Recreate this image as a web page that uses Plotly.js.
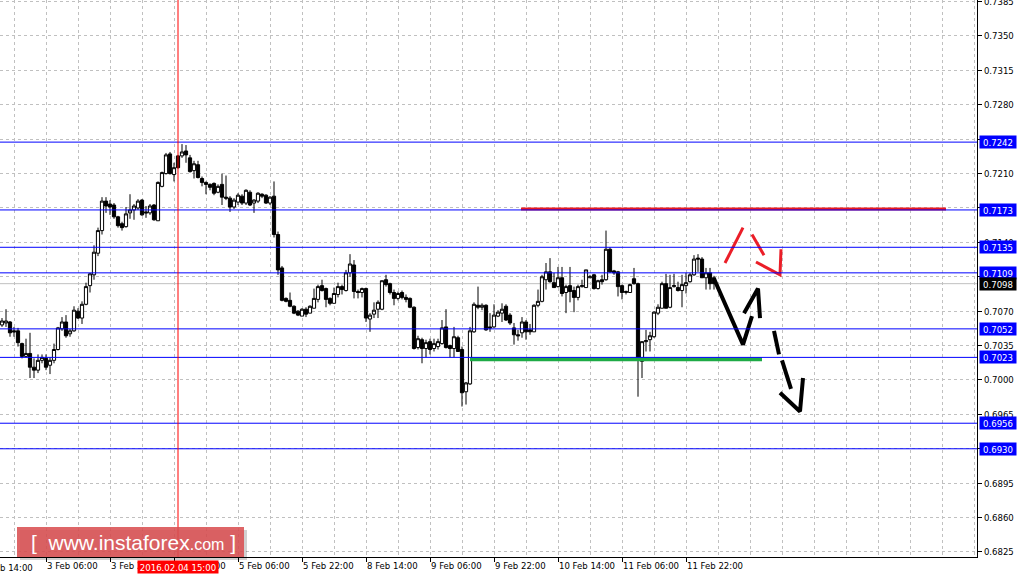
<!DOCTYPE html>
<html><head><meta charset="utf-8">
<script src="https://cdn.plot.ly/plotly-3.0.1.min.js"></script>
<style>html,body{margin:0;padding:0;background:#fff;overflow:hidden}#chart{width:1023px;height:578px}</style>
</head><body><div id="chart"></div>
<script>
// H1 bars; bar index 0 = 3 Feb 06:00, first visible candle is index -11
const firstBar = -11;
const open = [0.7056,0.7058,0.7059,0.7050,0.7050,0.7037,0.7024,0.7027,0.7013,0.7010,0.7020,
0.7022,0.7015,0.7020,0.7031,0.7052,0.7059,0.7047,0.7050,0.7070,0.7063,
0.7077,0.7096,0.7107,0.7129,0.7152,0.7182,0.7179,0.7178,0.7166,0.7159,
0.7156,0.7170,0.7173,0.7175,0.7183,0.7171,0.7170,0.7178,0.7162,0.7197,
0.7210,0.7230,0.7209,0.7228,0.7228,0.7233,0.7226,0.7213,0.7219,0.7205,
0.7201,0.7199,0.7200,0.7191,0.7199,0.7186,0.7185,0.7176,0.7181,0.7187,
0.7180,0.7191,0.7180,0.7182,0.7189,0.7188,0.7180,0.7187,0.7148,0.7114,
0.7083,0.7081,0.7075,0.7070,0.7065,0.7072,0.7068,0.7073,0.7082,0.7096,
0.7093,0.7083,0.7078,0.7087,0.7095,0.7091,0.7109,0.7117,0.7090,0.7089,
0.7093,0.7062,0.7067,0.7072,0.7072,0.7102,0.7098,0.7089,0.7083,0.7089,
0.7084,0.7083,0.7074,0.7033,0.7041,0.7032,0.7039,0.7032,0.7034,0.7037,
0.7054,0.7035,0.7032,0.7043,0.7031,0.6988,0.6996,0.7049,0.7076,0.7074,
0.7076,0.7054,0.7054,0.7065,0.7068,0.7075,0.7066,0.7053,0.7046,0.7048,
0.7059,0.7051,0.7049,0.7076,0.7080,0.7102,0.7110,0.7099,0.7095,0.7104,
0.7089,0.7096,0.7091,0.7084,0.7095,0.7094,0.7104,0.7107,0.7093,0.7102,
0.7102,0.7133,0.7111,0.7110,0.7096,0.7089,0.7089,0.7103,0.7098,0.7019,
0.7039,0.7041,0.7044,0.7068,0.7073,0.7098,0.7074,0.7095,0.7094,0.7091,
0.7096,0.7100,0.7107,0.7124,0.7123,0.7104,0.7109,0.7104];
const high = [0.7063,0.7072,0.7060,0.7054,0.7053,0.7038,0.7042,0.7048,0.7022,0.7026,0.7026,
0.7026,0.7023,0.7037,0.7054,0.7064,0.7066,0.7052,0.7075,0.7073,0.7080,
0.7099,0.7109,0.7137,0.7155,0.7186,0.7186,0.7183,0.7180,0.7167,0.7161,
0.7176,0.7189,0.7179,0.7184,0.7184,0.7177,0.7179,0.7179,0.7202,0.7212,
0.7231,0.7232,0.7221,0.7229,0.7240,0.7239,0.7229,0.7223,0.7223,0.7207,
0.7202,0.7200,0.7201,0.7199,0.7210,0.7208,0.7187,0.7185,0.7190,0.7189,
0.7194,0.7193,0.7184,0.7191,0.7190,0.7189,0.7187,0.7202,0.7151,0.7116,
0.7084,0.7089,0.7076,0.7071,0.7073,0.7074,0.7076,0.7093,0.7097,0.7102,
0.7094,0.7084,0.7094,0.7099,0.7097,0.7112,0.7128,0.7122,0.7092,0.7094,
0.7094,0.7068,0.7079,0.7081,0.7101,0.7107,0.7099,0.7092,0.7090,0.7091,
0.7087,0.7084,0.7075,0.7045,0.7043,0.7041,0.7042,0.7042,0.7042,0.7061,
0.7072,0.7036,0.7054,0.7045,0.7034,0.6998,0.7054,0.7079,0.7095,0.7078,
0.7077,0.7068,0.7077,0.7071,0.7078,0.7077,0.7068,0.7058,0.7051,0.7064,
0.7061,0.7057,0.7077,0.7092,0.7107,0.7119,0.7124,0.7109,0.7115,0.7115,
0.7097,0.7115,0.7095,0.7097,0.7102,0.7112,0.7107,0.7108,0.7102,0.7107,
0.7152,0.7135,0.7112,0.7111,0.7097,0.7091,0.7098,0.7114,0.7099,0.7039,
0.7051,0.7049,0.7070,0.7077,0.7100,0.7108,0.7107,0.7108,0.7100,0.7107,
0.7109,0.7109,0.7127,0.7128,0.7125,0.7114,0.7114,0.7106];
const low = [0.7054,0.7054,0.7044,0.7044,0.7034,0.7022,0.7023,0.7002,0.7002,0.7007,0.7017,
0.7010,0.7006,0.7017,0.7030,0.7050,0.7043,0.7044,0.7049,0.7062,0.7057,
0.7076,0.7089,0.7102,0.7126,0.7148,0.7170,0.7168,0.7164,0.7155,0.7152,
0.7155,0.7164,0.7163,0.7173,0.7167,0.7165,0.7168,0.7162,0.7162,0.7196,
0.7209,0.7209,0.7202,0.7215,0.7226,0.7221,0.7211,0.7205,0.7205,0.7197,
0.7189,0.7193,0.7188,0.7190,0.7178,0.7183,0.7171,0.7174,0.7178,0.7178,
0.7178,0.7177,0.7170,0.7180,0.7185,0.7179,0.7178,0.7145,0.7107,0.7080,
0.7079,0.7074,0.7067,0.7065,0.7065,0.7064,0.7068,0.7073,0.7079,0.7090,
0.7074,0.7076,0.7078,0.7084,0.7087,0.7090,0.7105,0.7083,0.7083,0.7084,
0.7059,0.7049,0.7063,0.7063,0.7071,0.7095,0.7087,0.7076,0.7081,0.7082,
0.7079,0.7073,0.7031,0.7031,0.7017,0.7023,0.7026,0.7029,0.7031,0.7036,
0.7032,0.7023,0.7023,0.7029,0.6973,0.6975,0.6995,0.7048,0.7072,0.7071,
0.7050,0.7049,0.7053,0.7064,0.7059,0.7060,0.7056,0.7036,0.7040,0.7043,
0.7041,0.7046,0.7049,0.7074,0.7079,0.7092,0.7099,0.7094,0.7094,0.7085,
0.7068,0.7079,0.7069,0.7081,0.7094,0.7094,0.7104,0.7092,0.7092,0.7097,
0.7101,0.7109,0.7107,0.7085,0.7082,0.7087,0.7089,0.7097,0.6983,0.7002,
0.7029,0.7029,0.7043,0.7066,0.7073,0.7073,0.7073,0.7094,0.7090,0.7074,
0.7088,0.7099,0.7106,0.7110,0.7104,0.7092,0.7092,0.7092];
const close = [0.7060,0.7060,0.7048,0.7049,0.7038,0.7024,0.7027,0.7013,0.7010,0.7020,0.7023,
0.7013,0.7020,0.7031,0.7053,0.7059,0.7045,0.7050,0.7071,0.7063,0.7077,
0.7095,0.7108,0.7130,0.7152,0.7182,0.7177,0.7176,0.7166,0.7157,0.7155,
0.7169,0.7173,0.7177,0.7182,0.7168,0.7170,0.7177,0.7163,0.7201,0.7211,
0.7229,0.7210,0.7216,0.7216,0.7232,0.7229,0.7212,0.7220,0.7206,0.7201,
0.7199,0.7196,0.7190,0.7197,0.7186,0.7185,0.7176,0.7183,0.7188,0.7180,
0.7193,0.7178,0.7183,0.7190,0.7187,0.7180,0.7186,0.7148,0.7112,0.7081,
0.7080,0.7075,0.7068,0.7066,0.7072,0.7067,0.7075,0.7083,0.7095,0.7091,
0.7082,0.7078,0.7088,0.7095,0.7092,0.7109,0.7118,0.7090,0.7089,0.7093,
0.7063,0.7066,0.7071,0.7079,0.7101,0.7097,0.7089,0.7083,0.7088,0.7084,
0.7082,0.7074,0.7032,0.7042,0.7032,0.7038,0.7031,0.7037,0.7039,0.7053,
0.7033,0.7032,0.7044,0.7029,0.6987,0.6997,0.7050,0.7077,0.7074,0.7076,
0.7051,0.7053,0.7066,0.7069,0.7072,0.7061,0.7058,0.7046,0.7045,0.7059,
0.7049,0.7049,0.7076,0.7080,0.7105,0.7110,0.7100,0.7094,0.7104,0.7088,
0.7095,0.7090,0.7084,0.7095,0.7096,0.7112,0.7105,0.7093,0.7101,0.7100,
0.7133,0.7110,0.7109,0.7095,0.7089,0.7090,0.7097,0.7098,0.7021,0.7039,
0.7040,0.7045,0.7069,0.7074,0.7098,0.7073,0.7094,0.7096,0.7091,0.7097,
0.7099,0.7107,0.7123,0.7123,0.7104,0.7109,0.7098,0.7098];

const levels = [0.7242,0.7173,0.7135,0.7109,0.7052,0.7023,0.6956,0.6930];
const bidPrice = 0.7098;
const priceTicks = [0.6825,0.6860,0.6895,0.6930,0.6965,0.7000,0.7035,0.7070,0.7105,0.7140,0.7175,0.7210,0.7245,0.7280,0.7315,0.7350,0.7385];
// tick labels fully covered by level boxes in the reference
const coveredTicks = [0.6930,0.7105,0.7175,0.7245];
const timeTickBars = [0,16,32,48,64,80,96,112,128,144,160];
const timeTickLabels = ['3 Feb 06:00','3 Feb 22:00','4 Feb 14:00','5 Feb 06:00','5 Feb 22:00','8 Feb 14:00','9 Feb 06:00','9 Feb 22:00','10 Feb 14:00','11 Feb 06:00','11 Feb 22:00'];
const cutLabel = 'b 14:00';          // 2 Feb 14:00, cut at left edge
const crosshairBar = 33;             // 2016.02.04 15:00
const crosshairLabel = '2016.02.04 15:00';
const resistX = [118.75, 225], resistY = [0.7174, 0.7174];
const supportX = [106, 179], supportY = [0.7021, 0.7021];
const blackPathX = [167,174.25,176.5,null,174.5,178,178.5,null,182,183.25,null,184,186.25,null,183.5,188.5,189.25];
const blackPathY = [0.7103,0.7036,0.7065,null,0.7068,0.7093,0.7063,null,0.7050,0.7026,null,0.7020,0.6991,null,0.6987,0.6968,0.7002];
const redPathX = [169.75,174.25,null,176.5,179.5,null,177.5,183.5,183.75];
const redPathY = [0.7119,0.7155,null,0.7148,0.7127,null,0.7120,0.7107,0.7133];

const bars = open.map((_, k) => firstBar + k);
const FONT = '"DejaVu Sans Condensed", "DejaVu Sans", sans-serif';
const FS = 9.5;
const GRID = '#c0c0c0';

const traces = [
  {type:'candlestick', x:bars, open:open, high:high, low:low, close:close,
   increasing:{line:{color:'#000',width:1}, fillcolor:'#ffffff'},
   decreasing:{line:{color:'#000',width:1}, fillcolor:'#000000'},
   whiskerwidth:0, hoverinfo:'skip', showlegend:false},
  {type:'scatter', mode:'lines', x:resistX, y:resistY, line:{color:'rgb(235,25,30)', width:3}, hoverinfo:'skip', showlegend:false},
  {type:'scatter', mode:'lines', x:supportX, y:supportY, line:{color:'rgb(30,170,70)', width:4}, hoverinfo:'skip', showlegend:false},
  {type:'scatter', mode:'lines', x:blackPathX, y:blackPathY, connectgaps:false, line:{color:'#000', width:4}, hoverinfo:'skip', showlegend:false},
  {type:'scatter', mode:'lines', x:redPathX, y:redPathY, connectgaps:false, line:{color:'rgb(235,30,40)', width:3}, hoverinfo:'skip', showlegend:false}
];

const shapes = [];
shapes.push({type:'line', xref:'paper', x0:0, x1:1, yref:'y', y0:bidPrice, y1:bidPrice, line:{color:GRID, width:1}, layer:'below'});
levels.forEach(v => shapes.push({type:'line', xref:'paper', x0:0, x1:1, yref:'y', y0:v, y1:v, line:{color:'rgb(0,0,255)', width:1}, layer:'above'}));
shapes.push({type:'line', xref:'x', x0:crosshairBar, x1:crosshairBar, yref:'paper', y0:0, y1:1, line:{color:'rgb(255,0,0)', width:1}, layer:'above'});
// watermark
shapes.push({type:'rect', xref:'paper', yref:'paper', x0:20/977, x1:247/977, y0:-3/557, y1:27/557, fillcolor:'rgba(0,0,0,0.18)', line:{width:0}, layer:'above'});
shapes.push({type:'rect', xref:'paper', yref:'paper', x0:17/977, x1:244/977, y0:0, y1:30/557, fillcolor:'rgba(218,80,82,0.88)', line:{width:0}, layer:'above'});

const annotations = [];
levels.forEach(v => annotations.push({xref:'paper', x:1, xanchor:'left', xshift:2, yref:'y', y:v, yanchor:'middle',
  text:v.toFixed(4), showarrow:false, bgcolor:'rgb(0,0,255)', width:36, height:12, borderpad:0,
  font:{family:FONT, size:FS, color:'#fff'}}));
annotations.push({xref:'paper', x:1, xanchor:'left', xshift:2, yref:'y', y:bidPrice, yanchor:'middle',
  text:bidPrice.toFixed(4), showarrow:false, bgcolor:'#000', width:36, height:12, borderpad:0,
  font:{family:FONT, size:FS, color:'#fff'}});
annotations.push({xref:'x', x:crosshairBar, xanchor:'center', yref:'paper', y:0, yanchor:'top', yshift:-3,
  text:crosshairLabel, showarrow:false, bgcolor:'rgb(255,0,0)', width:80, height:12, borderpad:0,
  font:{family:FONT, size:FS, color:'#fff'}});
annotations.push({xref:'paper', x:0, xanchor:'left', xshift:-2, yref:'paper', y:0, yanchor:'top', yshift:-3,
  text:cutLabel, showarrow:false, font:{family:FONT, size:FS, color:'#000'}});
annotations.push({xref:'paper', x:133/977, xanchor:'center', yref:'paper', y:15/557, yanchor:'middle',
  text:'[&nbsp;&nbsp;www.instaforex<span style="font-size:16px">.com</span>&nbsp;]', showarrow:false,
  font:{family:'"Liberation Sans", Arial, sans-serif', size:21, color:'#fff'}});

const layout = {
  width:1023, height:578,
  margin:{l:0, r:46, t:0, b:21, pad:0},
  paper_bgcolor:'#fff', plot_bgcolor:'#fff',
  showlegend:false, hovermode:false, dragmode:false,
  boxgap:0.2, boxgroupgap:0,
  font:{family:FONT, size:FS, color:'#000'},
  xaxis:{range:[-11.5, 232.75], tickmode:'array', tickvals:timeTickBars, ticktext:timeTickLabels, tickangle:0,
    ticklabelposition:'outside right', ticks:'outside', ticklen:4, tickcolor:'#000', tickwidth:1,
    showgrid:true, gridcolor:GRID, griddash:'3px,3px', gridwidth:1,
    minor:{tickmode:'linear', tick0:0, dtick:8, showgrid:true, gridcolor:GRID, griddash:'3px,3px', gridwidth:1, ticks:''},
    showline:true, linecolor:'#000', linewidth:1, zeroline:false, fixedrange:true,
    rangeslider:{visible:false}, tickfont:{family:FONT, size:FS, color:'#000'}},
  yaxis:{side:'right', range:[0.68199, 0.73866], tickmode:'array', tickvals:priceTicks,
    ticktext:priceTicks.map(v => coveredTicks.includes(v) ? '' : v.toFixed(4)),
    ticklabeloverflow:'allow',
    ticks:'outside', ticklen:4, tickcolor:'#000', showgrid:true, gridcolor:GRID, griddash:'3px,3px', gridwidth:1,
    showline:true, linecolor:'#000', linewidth:1, zeroline:false, fixedrange:true,
    tickfont:{family:FONT, size:FS, color:'#000'}},
  shapes:shapes, annotations:annotations
};

Plotly.newPlot('chart', traces, layout, {staticPlot:true, displayModeBar:false});
</script></body></html>
